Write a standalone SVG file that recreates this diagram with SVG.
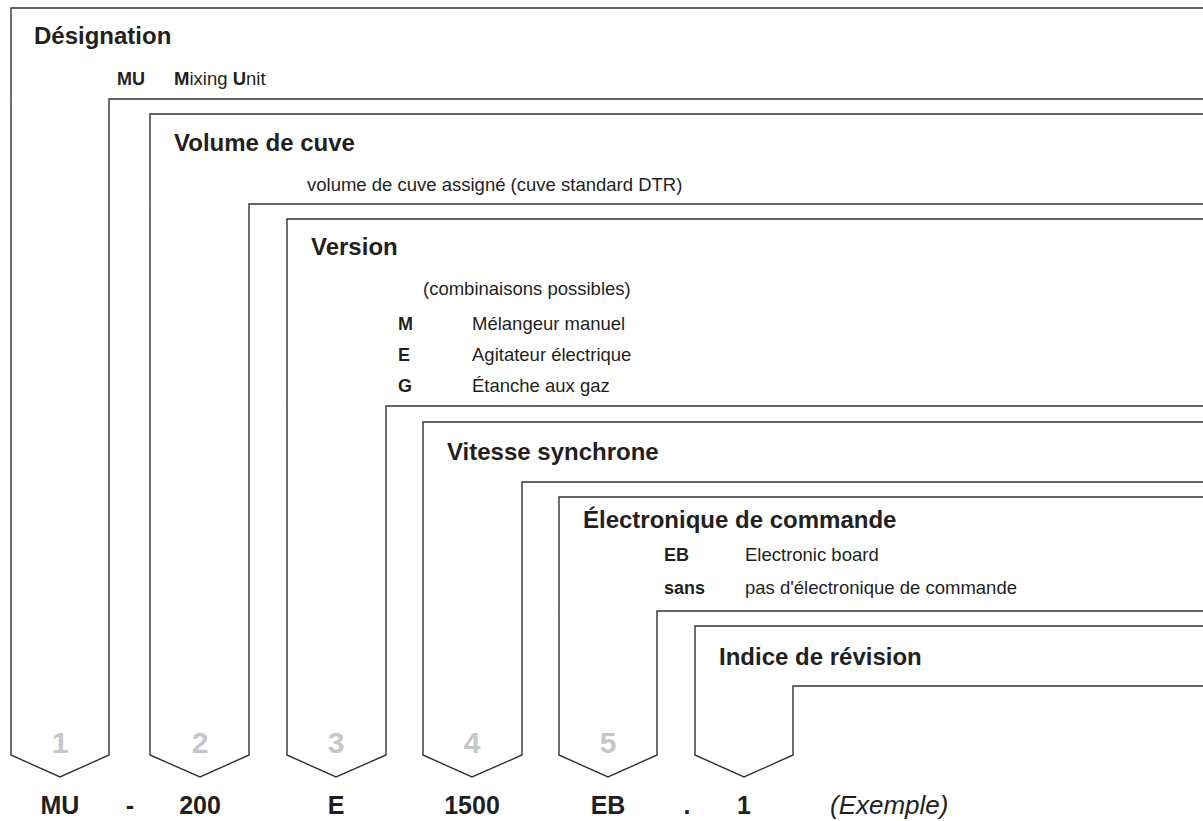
<svg xmlns="http://www.w3.org/2000/svg" width="1203" height="821" viewBox="0 0 1203 821">
<style>
.frame{fill:none;stroke:#333;stroke-width:1.4;stroke-linejoin:miter}
text{font-family:"Liberation Sans",Arial,sans-serif;fill:#231f20}
.title{font-size:24px;font-weight:bold}
.small{font-size:18.5px}
.key{font-size:18px;font-weight:bold}
.num{font-size:30px;font-weight:bold;fill:#c4c7ca;text-anchor:middle}
.code{font-size:25px;font-weight:bold;text-anchor:middle}
.ex{font-size:26px;font-style:italic}
</style>
<rect width="1203" height="821" fill="#fff"/>
<g id="connectors">
<path class="frame" d="M1210 8H11V755L60 777L109 755V99H1210"/>
<path class="frame" d="M1210 114H150V755L200 777L249 755V204H1210"/>
<path class="frame" d="M1210 219H287V755L336 777L386 755V406H1210"/>
<path class="frame" d="M1210 422H423V755L472 777L522 755V482H1210"/>
<path class="frame" d="M1210 497H559V755L608 777L657 755V611H1210"/>
<path class="frame" d="M1210 626H695V755L744 777L793 755V686H1210"/>
</g>
<g id="node-designation">
<text class="title" x="34" y="44">Désignation</text>
<text class="key" x="117" y="85">MU</text>
<text class="small" x="174" y="85"><tspan font-weight="bold">M</tspan>ixing <tspan font-weight="bold">U</tspan>nit</text>
<text class="num" x="60" y="753">1</text>
</g>
<g id="node-volume">
<text class="title" x="174" y="151">Volume de cuve</text>
<text class="small" x="307" y="191">volume de cuve assigné (cuve standard DTR)</text>
<text class="num" x="200" y="753">2</text>
</g>
<g id="node-version">
<text class="title" x="311" y="255">Version</text>
<text class="small" x="423" y="295">(combinaisons possibles)</text>
<text class="key" x="398" y="330">M</text>
<text class="small" x="472" y="330">Mélangeur manuel</text>
<text class="key" x="398" y="361">E</text>
<text class="small" x="472" y="361">Agitateur électrique</text>
<text class="key" x="398" y="392">G</text>
<text class="small" x="472" y="392">Étanche aux gaz</text>
<text class="num" x="336" y="753">3</text>
</g>
<g id="node-vitesse">
<text class="title" x="447" y="460">Vitesse synchrone</text>
<text class="num" x="472" y="753">4</text>
</g>
<g id="node-electronique">
<text class="title" x="583" y="528">Électronique de commande</text>
<text class="key" x="664" y="561">EB</text>
<text class="small" x="745" y="561">Electronic board</text>
<text class="key" x="664" y="594">sans</text>
<text class="small" x="745" y="594">pas d'électronique de commande</text>
<text class="num" x="608" y="753">5</text>
</g>
<g id="node-revision">
<text class="title" x="719" y="665">Indice de révision</text>
</g>
<g id="node-example">
<text class="code" x="60" y="814">MU</text>
<text class="code" x="130" y="814">-</text>
<text class="code" x="200" y="814">200</text>
<text class="code" x="336" y="814">E</text>
<text class="code" x="472" y="814">1500</text>
<text class="code" x="608" y="814">EB</text>
<text class="code" x="687" y="814">.</text>
<text class="code" x="744" y="814">1</text>
<text class="ex" x="830" y="814">(Exemple)</text>
</g>
</svg>
